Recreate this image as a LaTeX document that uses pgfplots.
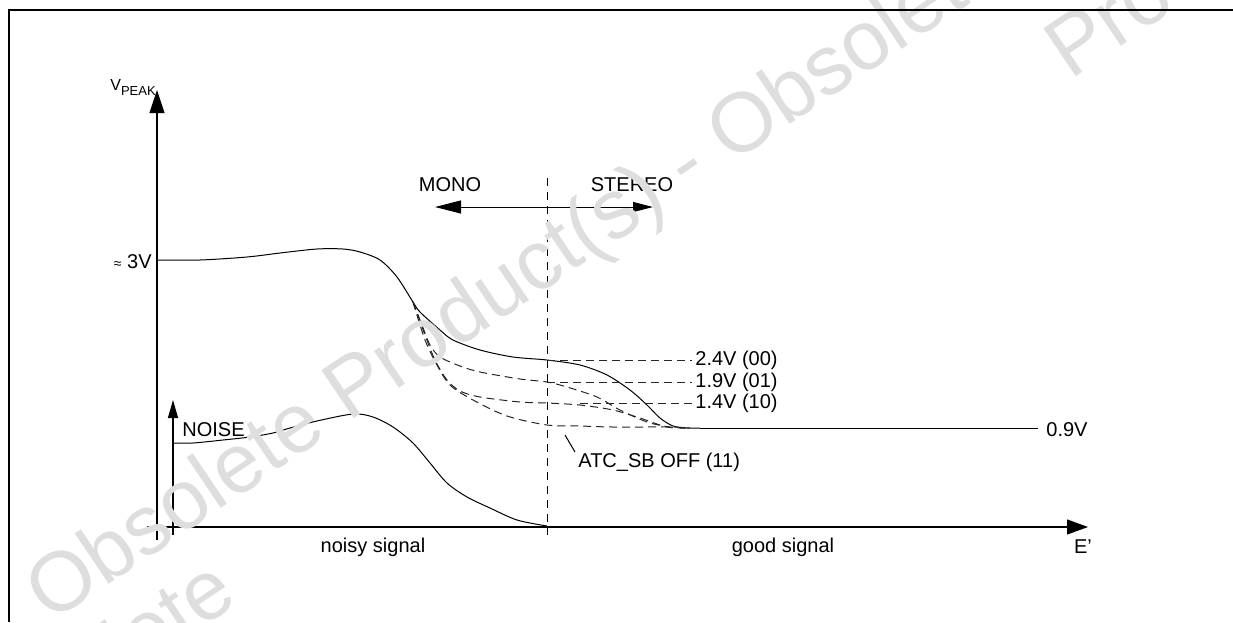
\documentclass[border=0pt]{standalone}
\usepackage{pgfplots}
\pgfplotsset{compat=1.18}
\usepackage{fontspec}
\setmainfont{Liberation Sans}
\usetikzlibrary{arrows.meta}
\tikzset{dsh/.style={black!85, dash pattern=on 4pt off 2.5pt, line width=0.5pt},
  wm/.style={rotate=34, black!13, font=\fontsize{42}{42}\selectfont, inner sep=0}}
\begin{document}
\begin{tikzpicture}[font=\fontsize{10}{12}\selectfont]
\begin{axis}[at={(0,0)},anchor=south west, scale only axis, width=616.5pt, height=311pt,
  xmin=0,xmax=1233,ymin=0,ymax=622, y dir=reverse, hide axis, clip=false,
  cycle list={{black,solid}}, no markers,
  every axis plot/.append style={line width=0.5pt, black}]
% axes
\addplot[black, line width=0.6pt, -{Triangle[length=11.5pt,width=7.5pt]}] coordinates {(157,540) (157,90)};
\addplot[black, line width=0.6pt, -{Triangle[length=9pt,width=5pt]}] coordinates {(173,535) (173,400)};
\addplot[black, line width=0.6pt, -{Triangle[length=10.5pt,width=7.5pt]}] coordinates {(147,527) (1088,527)};
% vertical dashed
\addplot[black, line width=0.5pt, dash pattern=on 4pt off 3pt] coordinates {(547,178) (547,535)};
% mono / stereo arrow
\addplot[black, line width=0.5pt, {Triangle[length=13pt,width=6.5pt]}-{Triangle[length=10pt,width=5pt]}] coordinates {(435,207) (653,207)};
% main curve
\addplot[black, smooth, tension=0.5] coordinates {(157,260) (200,260) (247,257) (280,253) (317,249) (343,249) (360,252) (380,260) (397,277) (413,302) (420,312) (440,330) (453,340) (480,350) (513,357) (547,360) (580,365) (607,375) (630,390) (647,405) (660,418) (673,426) (687,428) (700,428)};
\addplot[black, solid] coordinates {(700,428) (1038,428)};
% dashed branches
\addplot[dsh, smooth, tension=0.5] coordinates {(413,302) (422,325) (430,345) (440,357) (460,366) (480,372) (520,379) (547,382) (567,387) (597,397) (620,410) (647,422) (670,427) (690,428)};
\addplot[dsh, smooth, tension=0.5] coordinates {(413,302) (425,335) (435,360) (447,380) (460,391) (480,397) (520,402) (547,403) (580,405) (613,410) (640,418) (667,427) (690,428)};
\addplot[dsh, smooth, tension=0.5] coordinates {(413,302) (425,340) (437,365) (450,385) (473,400) (507,416) (547,425) (580,426) (613,427) (670,427) (690,428)};
% leaders
\addplot[dsh] coordinates {(547,360) (692,360)};
\addplot[dsh] coordinates {(547,382) (692,382)};
\addplot[dsh] coordinates {(580,403) (692,403)};
\addplot[black, solid] coordinates {(565,435) (575,452)};
% noise curve
\addplot[black, smooth, tension=0.5] coordinates {(173,443) (193,443) (223,440) (250,437) (273,433) (290,428) (317,421) (353,414) (373,417) (393,427) (413,443) (430,463) (447,483) (467,497) (490,508) (517,520) (547,526)};
% labels
\node[anchor=base west, inner sep=0] at (axis cs:110,90) {{\fontsize{8}{8}\selectfont V}\raisebox{-2.5pt}{\fontsize{6.5}{7}\selectfont PEAK}};
\node[anchor=east, inner sep=0] at (axis cs:152,262) {{\fontsize{7}{7}\selectfont ≈} 3V};
\node[inner sep=0] at (axis cs:450,185) {MONO};
\node[inner sep=0] at (axis cs:632,185) {STEREO};
\node[anchor=west, inner sep=0] at (axis cs:695,360) {2.4V (00)};
\node[anchor=west, inner sep=0] at (axis cs:695,382) {1.9V (01)};
\node[anchor=west, inner sep=0] at (axis cs:695,403) {1.4V (10)};
\node[anchor=west, inner sep=0] at (axis cs:1046,430) {0.9V};
\node[anchor=west, inner sep=0] at (axis cs:578,462) {ATC\_SB OFF (11)};
\node[anchor=west, inner sep=0] at (axis cs:182,430) {NOISE};
\node[inner sep=0] at (axis cs:373,547) {noisy signal};
\node[inner sep=0] at (axis cs:783,547) {good signal};
\node[inner sep=0] at (axis cs:1083,547) {E'};
% watermark (drawn over the chart)
\node[wm, anchor=base west] at (axis cs:50,624) {Obsolete Product(s) - Obsolete Product(s)};
\node[wm, anchor=base east] at (axis cs:241,602) {Obsolete};
\node[wm, anchor=base west] at (axis cs:1070,81) {Product(s)};
% frame
\addplot[black, line width=1pt] coordinates {(9,622) (9,10) (1233,10)};
\end{axis}
\pgfresetboundingbox
\path (0,0) rectangle (616.5pt,311pt);
\end{tikzpicture}
\end{document}
